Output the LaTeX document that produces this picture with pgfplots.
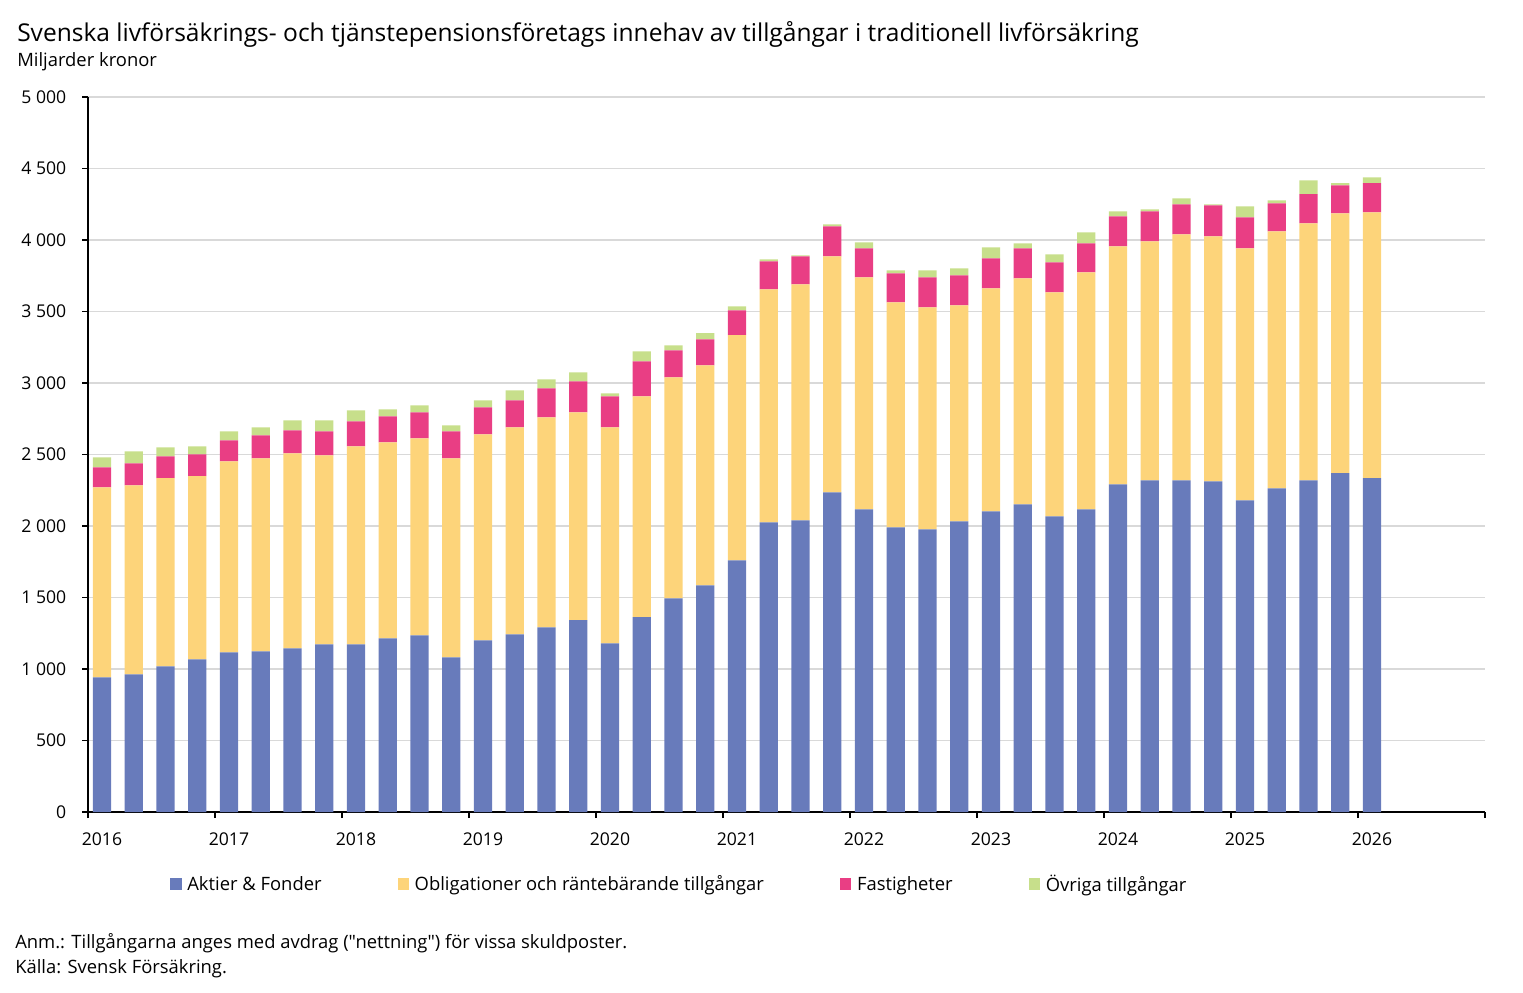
\documentclass[border=0pt]{standalone}
\usepackage{fontspec}
\setmainfont{Open Sans}
\usepackage{pgfplots}
\usepackage{pgfplotstable}
\pgfplotsset{compat=1.18}
\definecolor{cA}{RGB}{104,123,187}
\definecolor{cO}{RGB}{253,212,122}
\definecolor{cF}{RGB}{233,62,132}
\definecolor{cV}{RGB}{199,223,139}
\definecolor{gridgray}{RGB}{217,217,217}
\pgfplotstableread{
i A O F V
0 942 1329 139 70
1 963 1322 153 84
2 1019 1315 153 63
3 1068 1280 153 56
4 1117 1335 147 63
5 1124 1349 161 56
6 1145 1363 161 70
7 1173 1321 168 77
8 1173 1384 175 77
9 1215 1370 182 49
10 1236 1377 182 49
11 1082 1391 189 42
12 1201 1440 189 49
13 1243 1447 189 70
14 1292 1468 203 63
15 1341 1454 217 63
16 1180 1510 217 21
17 1362 1545 245 70
18 1494 1546 189 35
19 1585 1539 182 42
20 1760 1574 174 28
21 2026 1629 196 14
22 2040 1650 196 7
23 2236 1650 210 14
24 2117 1622 203 42
25 1991 1573 203 21
26 1977 1552 210 49
27 2033 1510 210 49
28 2103 1559 210 77
29 2152 1580 210 35
30 2068 1566 210 56
31 2117 1657 203 77
32 2292 1664 210 35
33 2320 1671 210 14
34 2320 1720 210 42
35 2313 1713 217 7
36 2180 1762 217 77
37 2264 1797 196 21
38 2320 1797 203 97
39 2369 1818 195 15
40 2334 1860 203 41
}\datatable
\begin{document}
\begin{tikzpicture}
\path[use as bounding box] (0,0) rectangle ({1523*0.75pt},{-992*0.75pt});
\node[anchor=base west, inner sep=0pt, font=\fontsize{18.4}{21}\selectfont] at ({17*0.75pt},{-41*0.75pt}) {Svenska livförsäkrings- och tjänstepensionsföretags innehav av tillgångar i traditionell livförsäkring};
\node[anchor=base west, inner sep=0pt, font=\fontsize{13.8}{16}\selectfont] at ({17*0.75pt},{-66*0.75pt}) {Miljarder kronor};
\node[anchor=base west, inner sep=0pt, font=\fontsize{13.8}{16}\selectfont] at ({15*0.75pt},{-948*0.75pt}) {\addfontfeatures{Ligatures=TeXOff}Anm.: Tillgångarna anges med avdrag ("nettning") för vissa skuldposter.};
\node[anchor=base west, inner sep=0pt, font=\fontsize{13.8}{16}\selectfont] at ({15*0.75pt},{-973*0.75pt}) {Källa: Svensk Försäkring.};
\begin{axis}[
  at={({88*0.75pt},{-812*0.75pt})}, anchor=south west,
  scale only axis, width=1047.75pt, height=536.25pt,
  ybar stacked, bar width=13.7pt,
  xmin=-0.44, xmax=43.56, ymin=0, ymax=5000,
  axis x line*=bottom, axis y line*=left,
  axis line style={black, line width=1.2pt},
  every tick/.style={black, line width=1.2pt},
  major tick length=4.5pt, tick align=outside,
  ytick={0,500,...,5000},
  ymajorgrids, grid style={draw=gridgray, line width=1.2pt},
  /pgf/number format/assume math mode=true,
  /pgf/number format/1000 sep={\ },
  yticklabel style={font=\fontsize{13.2}{15}\selectfont, xshift=-8.3pt},
  xtick={-0.44,3.56,7.56,11.56,15.56,19.56,23.56,27.56,31.56,35.56,39.56,43.56},
  xticklabels={},
  extra x ticks={0,4,8,12,16,20,24,28,32,36,40},
  extra x tick labels={2016,2017,2018,2019,2020,2021,2022,2023,2024,2025,2026},
  extra x tick style={major tick length=0pt, grid=none,
     xticklabel style={font=\fontsize{13.2}{15}\selectfont, yshift=-12pt}},
  legend style={at={(0.0587,-0.1007)}, anchor=west, draw=none, fill=none,
     inner sep=0pt, legend columns=4, font=\fontsize{13.8}{16}\selectfont,
     /tikz/every even column/.append style={column sep=55pt}},
  legend cell align=left,
  legend image code/.code={\fill[#1] (0pt,-4.3pt) rectangle (8.6pt,4.3pt); \path (10.8pt,0pt);},
]
\addplot[fill=cA, draw=none] table[x=i,y=A]{\datatable};
\addplot[fill=cO, draw=none] table[x=i,y=O]{\datatable};
\addplot[fill=cF, draw=none] table[x=i,y=F]{\datatable};
\addplot[fill=cV, draw=none] table[x=i,y=V]{\datatable};
\legend{Aktier \& Fonder, Obligationer och räntebärande tillgångar, Fastigheter, Övriga tillgångar}
\end{axis}
\end{tikzpicture}
\end{document}
